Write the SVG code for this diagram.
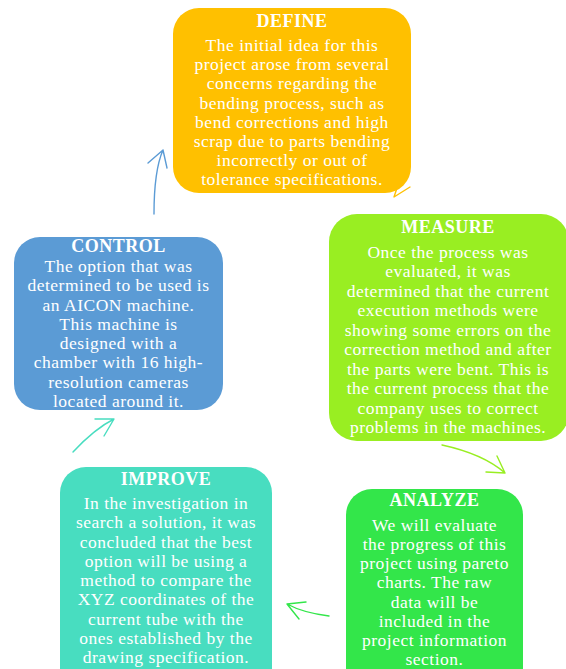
<svg xmlns="http://www.w3.org/2000/svg" width="566" height="669" viewBox="0 0 566 669">
<style>
text{font-family:"Liberation Serif","Times New Roman",serif;fill:#fff;text-anchor:middle;font-size:17.5px;letter-spacing:0.5px}
.t{font-weight:bold;font-size:18px}
.c{fill:none;stroke-width:1.4;stroke-linecap:round;stroke-linejoin:round}
</style>
<rect width="566" height="669" fill="#fff"/>
<g id="connectors">
<path class="c" stroke="#5B9BD5" d="M154,214 C154,186 156,166 163,150 M148,163 L163,150 L167,168"/>
<path class="c" stroke="#FFC000" d="M410,187 L394,197 L397,188"/>
<path class="c" stroke="#99EE22" d="M442,445 C465,450 488,458 505,473 M497,456 L505,473 L486,472"/>
<path class="c" stroke="#33E64A" d="M329,616 C313,614 298,610 287,604 M306,602 L287,604 L299,619"/>
<path class="c" stroke="#48DDC0" d="M73,452 C87,437 100,426 114,419 M95,419 L114,419 L104,436"/>
</g>
<g id="define">
<rect x="173" y="8" width="238" height="185" rx="26" fill="#FFC000"/>
<text x="292" y="27" class="t">DEFINE</text>
<text x="292" y="51">The initial idea for this</text>
<text x="292" y="70">project arose from several</text>
<text x="292" y="89">concerns regarding the</text>
<text x="292" y="109">bending process, such as</text>
<text x="292" y="128">bend corrections and high</text>
<text x="292" y="147">scrap due to parts bending</text>
<text x="292" y="166">incorrectly or out of</text>
<text x="292" y="185">tolerance specifications.</text>
</g>
<g id="measure">
<rect x="329" y="214" width="240" height="227" rx="28" fill="#99EE22"/>
<text x="448" y="233" class="t">MEASURE</text>
<text x="448" y="258">Once the process was</text>
<text x="448" y="277">evaluated, it was</text>
<text x="448" y="297">determined that the current</text>
<text x="448" y="316">execution methods were</text>
<text x="448" y="336">showing some errors on the</text>
<text x="448" y="355">correction method and after</text>
<text x="448" y="375">the parts were bent. This is</text>
<text x="448" y="394">the current process that the</text>
<text x="448" y="414">company uses to correct</text>
<text x="448" y="433">problems in the machines.</text>
</g>
<g id="control">
<rect x="14" y="237" width="209" height="173" rx="26" fill="#5B9BD5"/>
<text x="118.5" y="252" class="t">CONTROL</text>
<text x="118.5" y="272">The option that was</text>
<text x="118.5" y="291">determined to be used is</text>
<text x="118.5" y="311">an AICON machine.</text>
<text x="118.5" y="330">This machine is</text>
<text x="118.5" y="349">designed with a</text>
<text x="118.5" y="368">chamber with 16 high-</text>
<text x="118.5" y="388">resolution cameras</text>
<text x="118.5" y="407">located around it.</text>
</g>
<g id="improve">
<rect x="60" y="467" width="212" height="230" rx="26" fill="#48DDC0"/>
<text x="166" y="485" class="t">IMPROVE</text>
<text x="166" y="509">In the investigation in</text>
<text x="166" y="528">search a solution, it was</text>
<text x="166" y="548">concluded that the best</text>
<text x="166" y="567">option will be using a</text>
<text x="166" y="586">method to compare the</text>
<text x="166" y="605">XYZ coordinates of the</text>
<text x="166" y="625">current tube with the</text>
<text x="166" y="644">ones established by the</text>
<text x="166" y="663">drawing specification.</text>
</g>
<g id="analyze">
<rect x="346" y="489" width="177" height="210" rx="26" fill="#33E64A"/>
<text x="434.5" y="506" class="t">ANALYZE</text>
<text x="434.5" y="531">We will evaluate</text>
<text x="434.5" y="550">the progress of this</text>
<text x="434.5" y="569">project using pareto</text>
<text x="434.5" y="588">charts. The raw</text>
<text x="434.5" y="608">data will be</text>
<text x="434.5" y="627">included in the</text>
<text x="434.5" y="646">project information</text>
<text x="434.5" y="665">section.</text>
</g>
</svg>
